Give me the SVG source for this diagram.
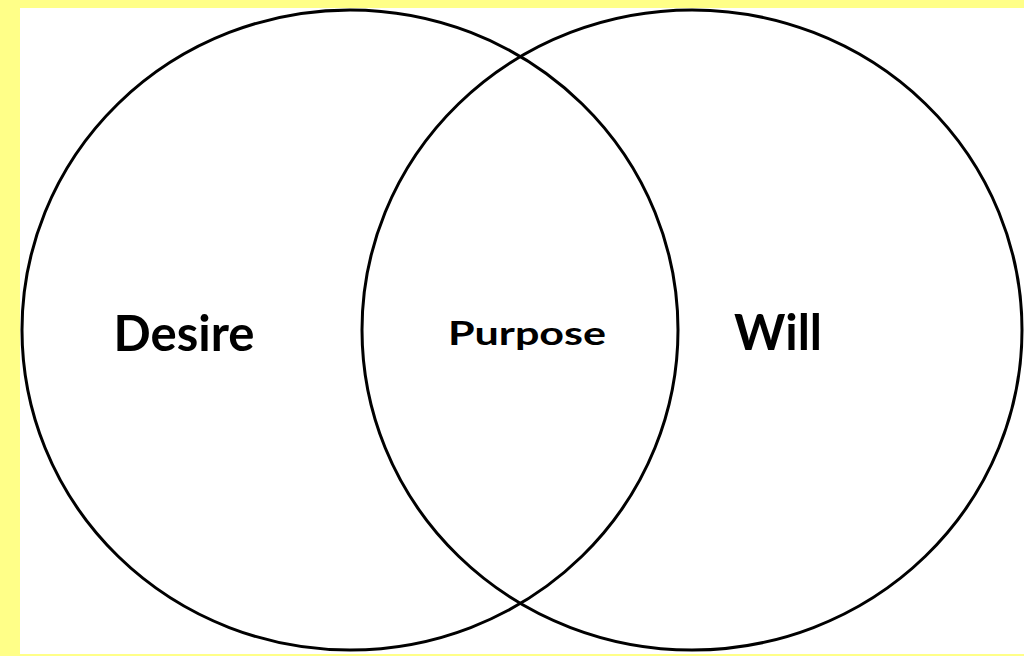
<svg xmlns="http://www.w3.org/2000/svg" width="1024" height="656" viewBox="0 0 1024 656">
<style>
.c{fill:none;stroke:#000;stroke-width:3}
.t{font-family:Lato,"Open Sans","Liberation Sans",sans-serif;font-weight:bold;fill:#000;text-anchor:middle}
</style>
<rect x="0" y="0" width="1024" height="656" fill="#ffff88"/>
<rect x="20" y="8" width="1004" height="646" fill="#fff"/>
<g id="desire">
<ellipse class="c" cx="350" cy="330" rx="328" ry="320"/>
<text class="t" x="184" y="351" font-size="49">Desire</text>
</g>
<g id="will">
<ellipse class="c" cx="692" cy="330" rx="330" ry="320"/>
<text class="t" x="778" y="350" font-size="49">Will</text>
</g>
<g id="purpose">
<text class="t" x="527" y="345" font-size="32" textLength="158" lengthAdjust="spacingAndGlyphs">Purpose</text>
</g>
</svg>
